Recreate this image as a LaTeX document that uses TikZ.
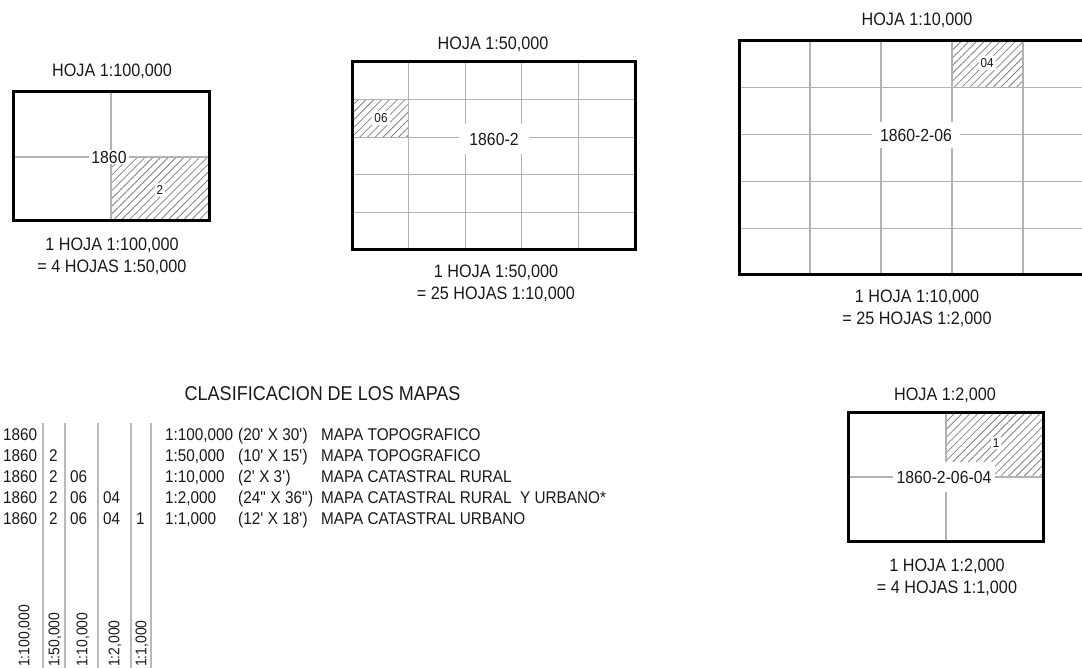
\documentclass[tikz,border=0pt]{standalone}
\usepackage{fontspec}
\setmainfont{Liberation Sans}[FakeStretch=0.9]
\usetikzlibrary{patterns.meta}
\newcommand{\mn}{\textquotesingle}
\newcommand{\sg}{\textquotedbl}
\begin{document}
\begin{tikzpicture}[x=1pt, y=-1pt, every node/.style={text=black!90},
  frame/.style={line width=3pt},
  gl/.style={draw=gray!60, line width=1.3pt},
  tl/.style={draw=gray!55, line width=2pt},
  hatch/.style={pattern={Lines[angle=45, distance=5.5pt, line width=0.8pt]}, pattern color=gray},
  lbl/.style={fill=white, inner xsep=4pt, inner ysep=3pt, font=\fontsize{17.5}{21}\selectfont},
  sm/.style={fill=white, inner sep=2pt, font=\fontsize{13}{15}\selectfont},
  hd/.style={font=\fontsize{18}{22}\selectfont, align=center},
  tb/.style={anchor=base west, inner sep=0pt, font=\fontsize{17}{20}\selectfont},
  vl/.style={rotate=90, anchor=west, inner sep=0pt, font=\fontsize{15.5}{18}\selectfont}]
\useasboundingbox (0,0) rectangle (1082,668);
\clip (0,0) rectangle (1082,668);

\fill[hatch] (111,157) rectangle (209,221);
\draw[gl] (111,92) -- (111,221) (13,157) -- (209,157);
\draw[frame] (13,92) rectangle (209,221);
\node[hd] (t100) at (112,71) {HOJA 1:100,000};
\node[lbl, inner xsep=2pt, inner ysep=1pt] (s100) at (109,157) {1860};
\node[sm] (h100) at (160,190) {2};
\node[hd] (n100) at (112,256) {1 HOJA 1:100,000\\= 4 HOJAS 1:50,000};

\fill[hatch] (352,99.6) rectangle (408.6,137.2);
\foreach \i in {1,...,4} {
  \draw[gl] (352+56.6*\i,62) -- ++(0,188);
  \draw[gl] (352,62+37.6*\i) -- ++(283,0);
}
\draw[frame] (352,62) rectangle (635,250);
\node[hd] (t50) at (493,44) {HOJA 1:50,000};
\node[lbl, inner xsep=10pt, inner ysep=9pt] (s50) at (494,139) {1860-2};
\node[sm] (h50) at (381,118) {06};
\node[hd] (n50) at (496,283) {1 HOJA 1:50,000\\= 25 HOJAS 1:10,000};

\fill[hatch] (952,41) rectangle (1023,87.8);
\foreach \i in {1,...,4} {
  \draw[gl] (739+71*\i,41) -- ++(0,234);
  \draw[gl] (739,41+46.8*\i) -- ++(355,0);
}
\draw[frame] (739,41) rectangle (1094,275);
\node[hd] (t10) at (917,20) {HOJA 1:10,000};
\node[lbl, inner xsep=8pt, inner ysep=7pt] (s10) at (916,135) {1860-2-06};
\node[sm] (h10) at (987,63) {04};
\node[hd] (n10) at (917,308) {1 HOJA 1:10,000\\= 25 HOJAS 1:2,000};

\fill[hatch] (946,412) rectangle (1043,477);
\draw[gl] (946,412) -- (946,541) (848,477) -- (1043,477);
\draw[frame] (848,412) rectangle (1043,541);
\node[hd] (t2) at (945,395) {HOJA 1:2,000};
\node[lbl, inner xsep=4pt, inner ysep=9pt] (s2) at (944,477) {1860-2-06-04};
\node[sm] (h2) at (996,443) {1};
\node[hd] (n2) at (947,577) {1 HOJA 1:2,000\\= 4 HOJAS 1:1,000};

\node[hd, font=\fontsize{20}{24}\selectfont, anchor=east] (ttl) at (464,394) {CLASIFICACION DE LOS MAPAS};

\foreach \x in {43,65,98,131,151} \draw[tl] (\x,423) -- (\x,668);
\foreach \i in {0,...,4} \node[tb] (a\i) at (3,440+21*\i) {1860};
\foreach \i in {1,...,4} \node[tb] (b\i) at (49,440+21*\i) {2};
\foreach \i in {2,...,4} \node[tb] (c\i) at (70,440+21*\i) {06};
\foreach \i in {3,4} \node[tb] (d\i) at (103,440+21*\i) {04};
\node[tb] (e4) at (136,524) {1};
\foreach \sc/\sz/\ty [count=\i from 0] in {
  {1:100,000}/{(20\mn{} X 30\mn)}/{MAPA TOPOGRAFICO},
  {1:50,000}/{(10\mn{} X 15\mn)}/{MAPA TOPOGRAFICO},
  {1:10,000}/{(2\mn{} X 3\mn)}/{MAPA CATASTRAL RURAL},
  {1:2,000}/{(24\sg{} X 36\sg)}/{MAPA CATASTRAL RURAL\ \ Y URBANO*},
  {1:1,000}/{(12\mn{} X 18\mn)}/{MAPA CATASTRAL URBANO}} {
  \node[tb] (sc\i) at (165,440+21*\i) {\sc};
  \node[tb] (sz\i) at (238,440+21*\i) {\sz};
  \node[tb] (ty\i) at (321,440+21*\i) {\ty};
}
\foreach \t/\x [count=\i] in {{1:100,000}/25,{1:50,000}/55,{1:10,000}/83,{1:2,000}/115,{1:1,000}/142}
  \node[vl] (v\i) at (\x,667) {\t};
\end{tikzpicture}
\end{document}
